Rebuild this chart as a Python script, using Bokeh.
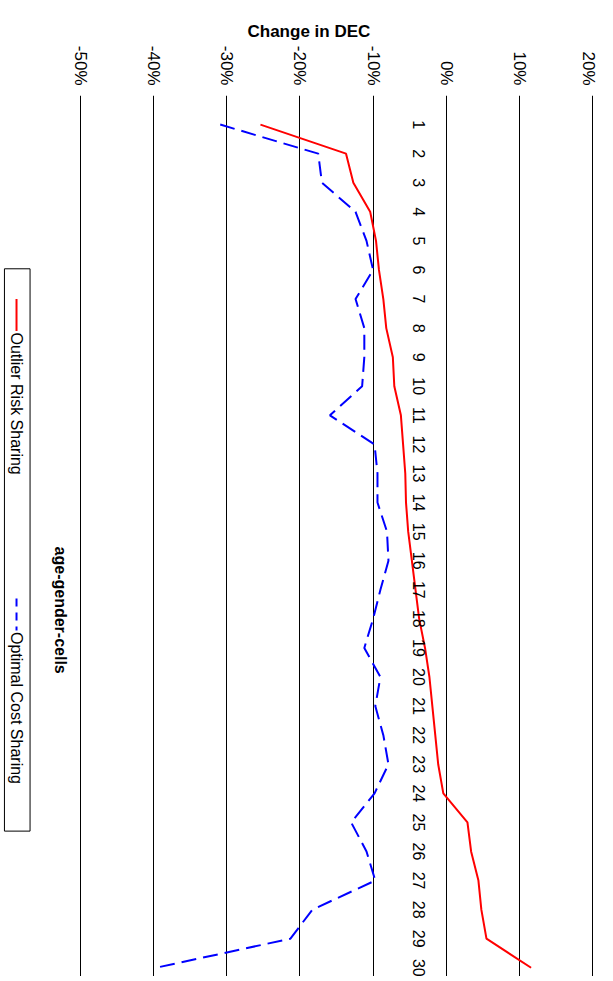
import math
from bokeh.plotting import figure
from bokeh.models import Range1d, LinearAxis, FixedTicker, CustomJSTickFormatter, Label
from bokeh.core.properties import value
from bokeh.embed import file_html
from bokeh.resources import INLINE

cells = list(range(1, 31))
outlier_risk = [-25.4, -13.7, -12.7, -10.4, -9.6, -9.2, -8.6, -8.2, -7.3, -7.1,
                -6.2, -5.9, -5.6, -5.5, -5.2, -4.7, -4.2, -3.7, -2.9, -2.3,
                -1.9, -1.5, -1.1, -0.4, 2.9, 3.4, 4.4, 4.8, 5.5, 11.6]
optimal_cost = [-30.9, -17.5, -17.0, -12.4, -10.9, -10.0, -12.4, -11.2, -11.2, -11.5,
                -15.9, -9.8, -9.4, -9.4, -8.1, -7.9, -9.0, -10.0, -11.2, -9.0,
                -9.7, -8.6, -7.9, -9.8, -13.0, -10.9, -9.7, -18.3, -21.3, -39.7]
ticks = [-50, -40, -30, -20, -10, 0, 10, 20]
FONT = "Liberation Sans"
DOWN = -math.pi / 2

p = figure(width=597, height=976, output_backend="svg", toolbar_location=None,
           x_range=Range1d(-60.94, 20.68), y_range=Range1d(30.3, 0.0),
           x_axis_location=None, y_axis_location=None,
           title="Change in DEC",
           min_border_left=0, min_border_right=0, min_border_top=95, min_border_bottom=0)
p.title.text_font = FONT
p.title.text_font_size = "17px"
p.title.text_font_style = "bold"
p.title.text_color = "black"
p.title.align = "left"
p.title.offset = 247
p.title.standoff = 4
p.outline_line_color = None
p.background_fill_color = "white"
p.ygrid.grid_line_color = None

ax = LinearAxis(ticker=FixedTicker(ticks=ticks),
                formatter=CustomJSTickFormatter(code="return tick + '%';"))
ax.axis_line_color = None
ax.major_tick_line_color = None
ax.minor_tick_line_color = None
ax.major_label_orientation = DOWN
ax.major_label_text_font = FONT
ax.major_label_text_font_size = "17px"
ax.major_label_text_color = "black"
ax.major_label_standoff = 4
p.add_layout(ax, "above")
p.xgrid.ticker = FixedTicker(ticks=ticks)
p.xgrid.grid_line_color = "black"
p.xgrid.grid_line_width = 1

p.line(outlier_risk, cells, line_color="red", line_width=2)
p.line(optimal_cost, cells, line_color="blue", line_width=2, line_dash="15 7")

p.text(x=[-3.79] * len(cells), y=cells, text=[str(c) for c in cells], angle=DOWN,
       text_align="center", text_baseline="middle", text_font=value(FONT),
       text_font_size="16px", text_color="black")

p.add_layout(Label(x=-52.74, y=17.7, text="age-gender-cells", angle=DOWN,
                   text_align="center", text_baseline="middle", text_font=FONT,
                   text_font_size="16px", text_font_style="bold", text_color="black"))

# legend drawn by hand, rotated like the rest of the chart
p.quad(left=-60.4, right=-56.9, top=5.96, bottom=25.3, fill_color="white",
       line_color="black", line_width=1)
p.line([-58.75, -58.75], [7.0, 8.1], line_color="red", line_width=2)
p.line([-58.75, -58.75], [17.3, 18.4], line_color="blue", line_width=2, line_dash="8 6")
p.text(x=[-58.75, -58.75], y=[8.15, 18.45], text=["Outlier Risk Sharing", "Optimal Cost Sharing"],
       angle=DOWN, text_align="left", text_baseline="middle", text_font=value(FONT),
       text_font_size="16px", text_color="black")

open("out.html", "w").write(file_html(p, INLINE))
